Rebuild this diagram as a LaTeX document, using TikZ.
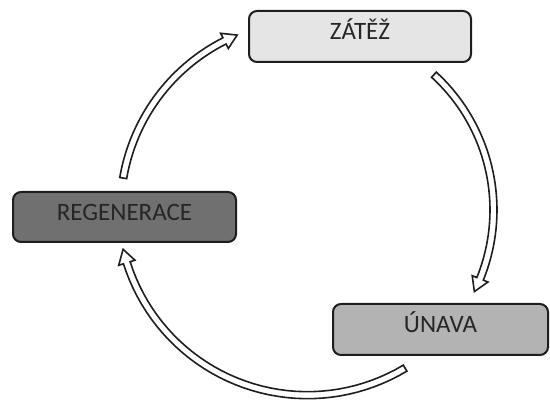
\documentclass[tikz,border=0pt]{standalone}
\usepackage{fontspec}
\setmainfont{Carlito}
\usepackage{tikz}
\definecolor{boxline}{HTML}{1E1E1E}
\definecolor{loadfill}{HTML}{E5E5E5}
\definecolor{fatiguefill}{HTML}{B3B3B3}
\definecolor{recoveryfill}{HTML}{707070}
\definecolor{labeltext}{HTML}{262626}
\tikzset{
    phase/.style={draw=boxline, line width=2pt, rounded corners=8pt,
        minimum width=222pt, minimum height=51pt, inner sep=0pt,
        text height=0.644em, text depth=0pt, text=labeltext,
        font=\fontsize{25}{30}\selectfont},
    cyclearrow/.style={draw=boxline, fill=white, line width=1.6pt, line join=miter}
}
\def\CycleArrow at (#1, #2) radius (#3) from #4 to #5; {
    \pgfmathsetmacro\headbase{#5 - 800/#3}
    \draw[cyclearrow, shift={(#1, #2)}]
        plot[domain=#4:\headbase, samples=40] ({\x}:{#3 + 3.5})
        -- ({\headbase}:{#3 + 8.5}) -- ({#5}:{#3}) -- ({\headbase}:{#3 - 8.5})
        -- plot[domain=#4:\headbase, samples=40] ({#4 + \headbase - \x}:{#3 - 3.5}) -- cycle;
}
\begin{document}
\begin{tikzpicture}[x=1pt, y=-1pt]
    \useasboundingbox (0, 0) rectangle (550, 403);
    \node[phase, fill=loadfill] (zatez) at (360, 36.5) {ZÁTĚŽ};
    \node[phase, fill=fatiguefill, minimum width=215pt] (unava) at (440.5, 329.5) {ÚNAVA};
    \node[phase, fill=recoveryfill, minimum width=223pt, minimum height=50pt] (regenerace) at (124.5, 217) {REGENERACE};
    \CycleArrow at (310, 210) radius (183.5) from -47.5 to 26.4; % to ÚNAVA
    \CycleArrow at (307.5, 205.7) radius (189.5) from 59 to 166.7; % to REGENERACE
    \CycleArrow at (310, 210) radius (189.5) from -170.3 to -112.6; % to ZÁTĚŽ
\end{tikzpicture}
\end{document}
